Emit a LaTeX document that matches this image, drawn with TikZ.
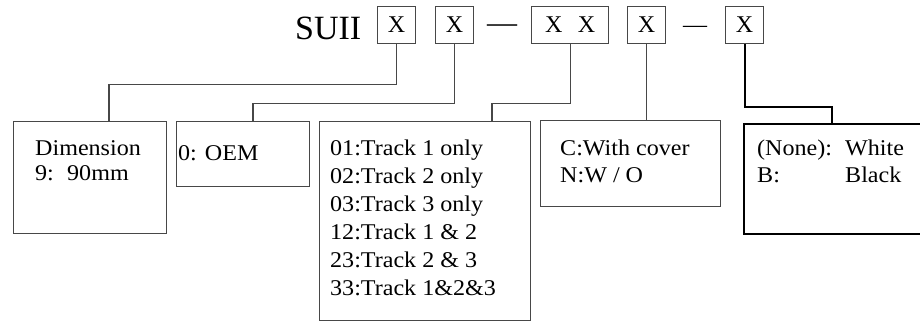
\documentclass[tikz,border=0pt]{standalone}
\usepackage{fontspec}
\setmainfont{Liberation Serif}
\newfontfamily\boxfont[FakeStretch=1.07]{Liberation Serif}
\begin{document}
\begin{tikzpicture}[x=1pt,y=-1pt,
  xbox/.style={draw=black!72,line width=1.2pt,anchor=north west,inner xsep=0pt,inner ysep=2pt,
    minimum width=38pt,text height=24pt,text depth=9pt,font=\fontsize{24}{28}\selectfont},
  lbox/.style={draw=black!72,line width=1.2pt,anchor=north west,inner sep=0pt},
  bbox/.style={draw=black,line width=1.8pt,anchor=north west,inner sep=0pt},
  conn/.style={draw=black!72,line width=1.2pt},
  bconn/.style={draw=black,line width=1.8pt},
  txt/.style={anchor=base west,inner sep=0pt,font=\boxfont\fontsize{22.5}{28}\selectfont},
  dashtext/.style={anchor=base,inner sep=0pt}]
\useasboundingbox (0,0) rectangle (920,322);
\clip (0,0) rectangle (920,322);
% header
\node[anchor=base west,inner sep=0pt,font=\fontsize{34}{40}\selectfont] (suii) at (295,39) {SUII};
\node[xbox] (x1) at (377,6) {X};
\node[xbox] (x2) at (435,6) {X};
\node[dashtext,font=\fontsize{30}{34}\selectfont] (d1) at (502,32) {—};
\node[xbox,minimum width=77pt] (x3) at (531,6) {X\hspace{15.5pt}X};
\node[xbox] (x4) at (627,6) {X};
\node[dashtext,font=\fontsize{24}{28}\selectfont] (d2) at (695,32) {—};
\node[xbox] (x5) at (725,6) {X};
% lower boxes
\node[lbox,minimum width=153pt,minimum height=112pt] (b1) at (13,121) {};
\node[lbox,minimum width=133pt,minimum height=65pt] (b2) at (176,121) {};
\node[lbox,minimum width=211pt,minimum height=199pt] (b3) at (319,121) {};
\node[lbox,minimum width=180pt,minimum height=86pt] (b4) at (540,120) {};
\node[bbox,minimum width=200pt,minimum height=110pt] (b5) at (743,123) {};
% texts
\node[txt] (t11) at (35,155) {Dimension};
\node[txt] (t12) at (35,180) {\makebox[32pt][l]{9:}90mm};
\node[txt] (t21) at (178,160) {0: OEM};
\node[txt] (t31) at (330,155) {01:Track 1 only};
\node[txt] (t32) at (330,183) {02:Track 2 only};
\node[txt] (t33) at (330,211) {03:Track 3 only};
\node[txt] (t34) at (330,239) {12:Track 1 \& 2};
\node[txt] (t35) at (330,267) {23:Track 2 \& 3};
\node[txt] (t36) at (330,295) {33:Track 1\&2\&3};
\node[txt] (t41) at (560,155) {C:With cover};
\node[txt] (t42) at (560,182) {N:W / O};
\node[txt] (t51) at (757,155) {\makebox[88pt][l]{(None):}White};
\node[txt] (t52) at (757,182) {\makebox[88pt][l]{B:}Black};
% connectors
\draw[conn] (x1.south) -- ++(0,40) -| ([xshift=96pt]b1.north west);
\draw[conn] (x2.south) -- ++(0,59) -| ([xshift=77pt]b2.north west);
\draw[conn] (x3.south) -- ++(0,59) -| ([xshift=173pt]b3.north west);
\draw[conn] (x4.south) -- (x4.south |- b4.north);
\draw[bconn] (x5.south) -- ++(0,63) -| ([xshift=89pt]b5.north west);
\end{tikzpicture}
\end{document}
